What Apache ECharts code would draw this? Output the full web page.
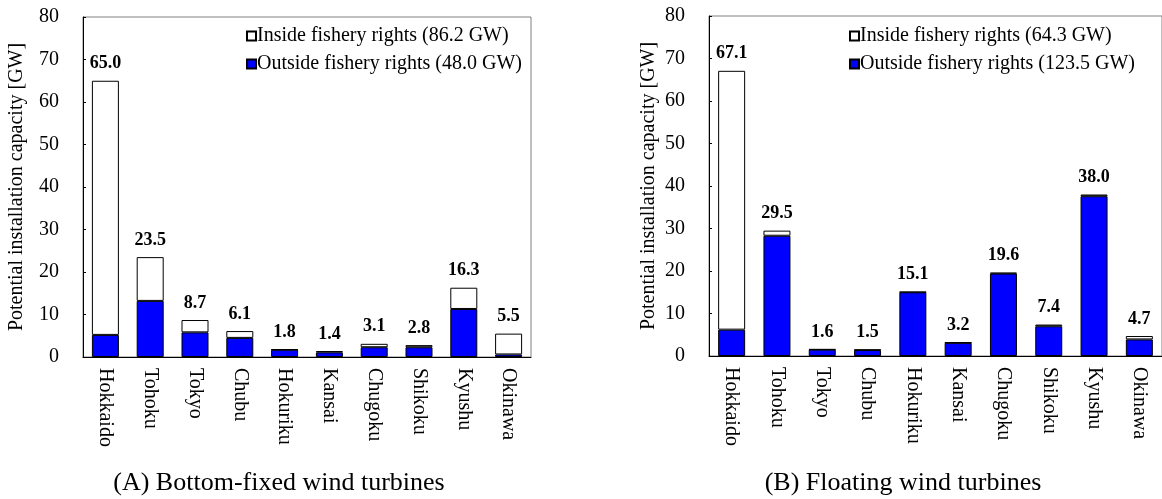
<!DOCTYPE html>
<html>
<head>
<meta charset="utf-8">
<style>
html,body{margin:0;padding:0;background:#fff;}
#chart{width:1162px;height:499px;}
</style>
<script src="https://cdn.jsdelivr.net/npm/echarts@6/dist/echarts.min.js"></script>
</head>
<body>
<div id="chart"></div>
<script>
const regions = ['Hokkaido','Tohoku','Tokyo','Chubu','Hokuriku','Kansai','Chugoku','Shikoku','Kyushu','Okinawa'];
// (A) Bottom-fixed
const fixedTotal   = [65.0, 23.5, 8.7, 6.1, 1.8, 1.4, 3.1, 2.8, 16.3, 5.5];
const fixedOutside = [5.2, 13.2, 5.8, 4.5, 1.7, 1.1, 2.3, 2.3, 11.3, 0.6];
// (B) Floating
const floatTotal   = [67.1, 29.5, 1.6, 1.5, 15.1, 3.2, 19.6, 7.4, 38.0, 4.7];
const floatOutside = [6.2, 28.3, 1.5, 1.4, 15.0, 3.1, 19.4, 7.0, 37.6, 3.9];
const yTicks = [0, 10, 20, 30, 40, 50, 60, 70, 80];

const fixedInside = fixedTotal.map((t, i) => +(t - fixedOutside[i]).toFixed(1));
const floatInside = floatTotal.map((t, i) => +(t - floatOutside[i]).toFixed(1));

const FONT = '"Liberation Serif", "Times New Roman", serif';
const nameA_in = 'Inside fishery rights (86.2 GW)';
const nameA_out = 'Outside fishery rights (48.0 GW)';
const nameB_in = 'Inside fishery rights (64.3 GW)';
const nameB_out = 'Outside fishery rights (123.5 GW)';

function xAxis(gi) {
  return {
    type: 'category', gridIndex: gi, data: regions,
    axisLine: {lineStyle: {color: '#000', width: 1}},
    axisTick: {show: false},
    axisLabel: {rotate: -90, fontFamily: FONT, fontSize: 20, color: '#000', margin: 11, interval: 0}
  };
}
function yAxis(gi, gap) {
  return {
    type: 'value', gridIndex: gi, min: 0, max: 80, interval: 10,
    name: 'Potential installation capacity [GW]', nameLocation: 'middle', nameGap: gap,
    nameTextStyle: {fontFamily: FONT, fontSize: 20, color: '#000'},
    axisLine: {show: true, lineStyle: {color: '#000', width: 1}},
    axisTick: {show: true, inside: true, length: 3, lineStyle: {color: '#000'}},
    splitLine: {show: false},
    axisLabel: {fontFamily: FONT, fontSize: 20, color: '#000', margin: 24,
      formatter: v => yTicks.includes(v) ? String(v) : ''}
  };
}
function bars(gi, nameOut, nameIn, outside, inside, totals) {
  return [
    {name: nameOut, type: 'bar', stack: 's' + gi, xAxisIndex: gi, yAxisIndex: gi, barWidth: 27,
     itemStyle: {color: '#0000FF', borderColor: '#000', borderWidth: 1}, data: outside},
    {name: nameIn, type: 'bar', stack: 's' + gi, xAxisIndex: gi, yAxisIndex: gi, barWidth: 27,
     itemStyle: {color: '#FFFFFF', borderColor: '#000', borderWidth: 1}, data: inside,
     label: {show: true, position: 'top', distance: 8, fontFamily: FONT, fontSize: 18, fontWeight: 'bold', color: '#000',
       formatter: p => totals[p.dataIndex].toFixed(1)}}
  ];
}
function legend(left, names) {
  return {
    orient: 'vertical', left: left, top: 21, itemWidth: 9, itemHeight: 9, itemGap: 8,
    icon: 'rect', selectedMode: false, data: names,
    textStyle: {fontFamily: FONT, fontSize: 20, color: '#000', padding: [0, 0, 0, -4]}
  };
}

const chart = echarts.init(document.getElementById('chart'), null, {renderer: 'canvas'});
chart.setOption({
  animation: false,
  backgroundColor: '#fff',
  grid: [
    {left: 83, right: 631, top: 17, bottom: 142, show: true, borderColor: '#808080', borderWidth: 1},
    {left: 709, right: -3, top: 16, bottom: 143, show: true, borderColor: '#808080', borderWidth: 1}
  ],
  legend: [legend(241, [nameA_in, nameA_out]), legend(844, [nameB_in, nameB_out])],
  xAxis: [xAxis(0), xAxis(1)],
  yAxis: [yAxis(0, 56), yAxis(1, 50)],
  series: [
    ...bars(0, nameA_out, nameA_in, fixedOutside, fixedInside, fixedTotal),
    ...bars(1, nameB_out, nameB_in, floatOutside, floatInside, floatTotal)
  ],
  graphic: [
    {type: 'text', x: 279, y: 483, style: {text: '(A) Bottom-fixed wind turbines', font: '26px ' + FONT, fill: '#000', textAlign: 'center', textVerticalAlign: 'middle'}},
    {type: 'text', x: 903, y: 483, style: {text: '(B) Floating wind turbines', font: '26px ' + FONT, fill: '#000', textAlign: 'center', textVerticalAlign: 'middle'}}
  ]
});
</script>
</body>
</html>
